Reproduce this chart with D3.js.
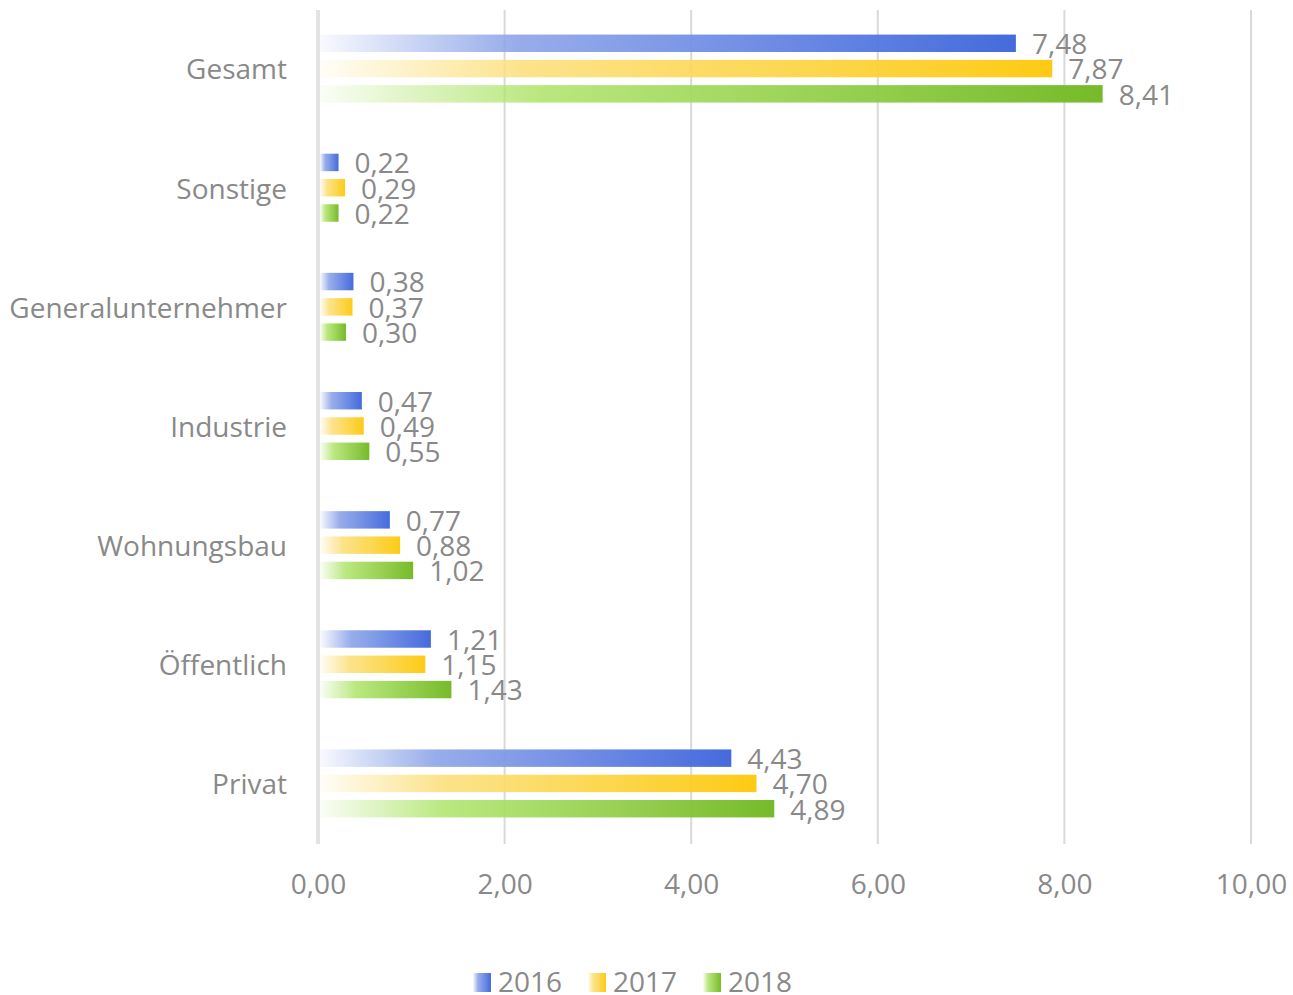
<!DOCTYPE html>
<html>
<head>
<meta charset="utf-8">
<script src="https://cdn.jsdelivr.net/npm/d3@7"></script>
<style>
  body { margin: 0; background: #fff; }
  text { font-family: "Open Sans", "Liberation Sans", sans-serif; fill: #898989; }
</style>
</head>
<body>
<div id="chart"></div>
<script>
const categories = ['Gesamt', 'Sonstige', 'Generalunternehmer', 'Industrie', 'Wohnungsbau', 'Öffentlich', 'Privat'];
const years = ['2016', '2017', '2018'];
const values2016 = [7.48, 0.22, 0.38, 0.47, 0.77, 1.21, 4.43];
const values2017 = [7.87, 0.29, 0.37, 0.49, 0.88, 1.15, 4.70];
const values2018 = [8.41, 0.22, 0.30, 0.55, 1.02, 1.43, 4.89];
const xTicks = [0, 2, 4, 6, 8, 10];
const colors = ['#3f66dc', '#fdc90d', '#72b823'];
const midColors = ['#8ca4e8', '#fbe07e', '#b2e570'];

const seriesValues = [values2016, values2017, values2018];

//=====================plot size=========================
var width = 1293, height = 995;
var margin = {top: 10, bottom: 151, left: 318, right: 42};
var plotW = width - margin.left - margin.right;
var plotH = height - margin.top - margin.bottom;

var svg = d3.select('#chart')
  .append('svg')
  .attr('width', width)
  .attr('height', height);

// gradients: nearly white on the left to full colour on the right, per bar
var defs = svg.append('defs');
colors.forEach(function(c, i){
  var g = defs.append('linearGradient')
    .attr('id', 'grad' + i)
    .attr('x1', '0%').attr('x2', '100%').attr('y1', '0%').attr('y2', '0%');
  g.append('stop').attr('offset', '0%').attr('stop-color', midColors[i]).attr('stop-opacity', 0.06);
  g.append('stop').attr('offset', '28%').attr('stop-color', midColors[i]).attr('stop-opacity', 0.9);
  g.append('stop').attr('offset', '100%').attr('stop-color', c).attr('stop-opacity', 0.97);
});

var plot = svg.append('g')
  .attr('transform', 'translate(' + margin.left + ',' + margin.top + ')');

var x = d3.scaleLinear().domain([0, 10]).range([0, plotW]);
var y = d3.scaleBand().domain(categories).range([0, plotH]);
var yInner = d3.scaleBand().domain(years).range([0, 68]).paddingInner(0.31);

var fmt = function(v){ return d3.format('.2f')(v).replace('.', ','); };

// gridlines
plot.selectAll('.grid')
  .data(xTicks.slice(1))
  .enter()
  .append('line')
  .attr('x1', function(d){ return x(d); })
  .attr('x2', function(d){ return x(d); })
  .attr('y1', 0)
  .attr('y2', plotH)
  .attr('stroke', '#d9d9d9')
  .attr('stroke-width', 2);

// left axis line
plot.append('line')
  .attr('x1', 0).attr('x2', 0)
  .attr('y1', 0).attr('y2', plotH)
  .attr('stroke', '#e3e3e3')
  .attr('stroke-width', 4);

// x tick labels
var xAxis = plot.append('g')
  .attr('transform', 'translate(0,' + plotH + ')')
  .call(d3.axisBottom(x).tickValues(xTicks).tickFormat(fmt).tickSize(0).tickPadding(30));
xAxis.select('.domain').remove();
xAxis.selectAll('text')
  .attr('font-size', 28)
  .style('font-family', '"Open Sans", "Liberation Sans", sans-serif')
  .attr('fill', '#898989');

// category labels
plot.selectAll('.cat')
  .data(categories)
  .enter()
  .append('text')
  .attr('x', -31)
  .attr('y', function(d){ return y(d) + y.bandwidth() / 2; })
  .attr('dy', '0.35em')
  .attr('text-anchor', 'end')
  .attr('font-size', 28)
  .text(function(d){ return d; });

// bars
var groups = plot.selectAll('.grp')
  .data(categories)
  .enter()
  .append('g')
  .attr('transform', function(d){ return 'translate(0,' + (y(d) + y.bandwidth() / 2 - 35) + ')'; });

groups.each(function(cat, ci){
  var g = d3.select(this);
  years.forEach(function(yr, si){
    var v = seriesValues[si][ci];
    g.append('rect')
      .attr('x', 2)
      .attr('y', yInner(yr))
      .attr('width', x(v) - 2)
      .attr('height', yInner.bandwidth())
      .attr('fill', 'url(#grad' + si + ')');
    g.append('text')
      .attr('x', x(v) + 16)
      .attr('y', yInner(yr) + yInner.bandwidth() / 2 + 1)
      .attr('dy', '0.35em')
      .attr('font-size', 28)
      .text(fmt(v));
  });
});

// legend
var legend = svg.append('g');
var legendX = [473, 588, 703];
years.forEach(function(yr, i){
  var lg = legend.append('g').attr('transform', 'translate(' + legendX[i] + ',973)');
  lg.append('rect')
    .attr('width', 18)
    .attr('height', 19)
    .attr('fill', 'url(#grad' + i + ')');
  lg.append('text')
    .attr('x', 25)
    .attr('y', 9)
    .attr('dy', '0.35em')
    .attr('font-size', 28)
    .text(yr);
});
</script>
</body>
</html>
